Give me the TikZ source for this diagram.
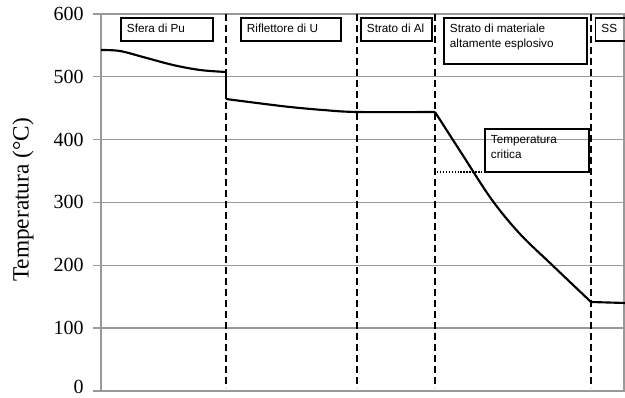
\documentclass[tikz,border=0pt]{standalone}
\usepackage{fontspec}
\setmainfont{Liberation Serif}
\newfontfamily\boxfont{Liberation Sans}
\newcommand{\bxt}[3]{\begin{minipage}[t][#2][t]{#1}\raggedright\leftskip=4.5pt\rule{0pt}{11.3pt}#3\end{minipage}}
\begin{document}
\begin{tikzpicture}[x=0.75pt,y=-0.75pt,
  gridline/.style={gray!80, line width=0.8pt},
  sepline/.style={black, line width=1.5pt, dash pattern=on 5.25pt off 3pt},
  curveline/.style={black, line width=1.6pt, line join=round},
  labbox/.style={draw=black, line width=1.4pt, inner sep=0pt, anchor=north west, font=\boxfont\fontsize{8.8}{10.8}\selectfont},
  ticklab/.style={anchor=east, font=\fontsize{15}{17}\selectfont, inner sep=0pt},
]
\useasboundingbox (0,0) rectangle (625,398);
\clip (0,0) rectangle (625,398);
% grid
\foreach \yy in {14,76.8,139.6,202.4,265.2,328,391} {
  \draw[gridline] (93,\yy) -- (625,\yy);
}
\draw[gridline] (101,14) -- (101,391);
\draw[gridline] (624,14) -- (624,391);
% tick labels
\node[ticklab] (t600) at (84,14) {600};
\node[ticklab] (t500) at (84,76.8) {500};
\node[ticklab] (t400) at (84,139.6) {400};
\node[ticklab] (t300) at (84,202.4) {300};
\node[ticklab] (t200) at (84,265.2) {200};
\node[ticklab] (t100) at (84,328) {100};
\node[ticklab, anchor=south east] (t0) at (84,394) {0};
% axis label
\node[rotate=90, font=\fontsize{17.5}{19}\selectfont, inner sep=0pt] (ylab) at (23,200) {Temperatura (°C)};
% dashed separators
\foreach \xx in {226,357,435,591} {
  \draw[sepline] (\xx,14) -- (\xx,388);
}
% boxes
\node[labbox] (sfera) at (120,17) {\bxt{69pt}{17.25pt}{Sfera di Pu}};
\node[labbox] (rifl) at (240,17) {\bxt{75pt}{17.25pt}{Riflettore di U}};
\node[labbox] (al) at (360,17) {\bxt{53.25pt}{17.25pt}{Strato di Al}};
\node[labbox] (hx) at (443,17) {\bxt{107.25pt}{34.5pt}{Strato di materiale\\altamente esplosivo}};
\node[labbox] (ss) at (594.5,17) {\bxt{45pt}{17.25pt}{SS}};
\node[labbox] (crit) at (484,128) {\bxt{78pt}{32.25pt}{Temperatura\\critica}};
% critical temperature dotted line
\coordinate (tcL) at (437,172);
\coordinate (tcR) at (592,172);
\draw[black, line width=1.1pt, dash pattern=on 1.1pt off 1.1pt] (tcL) -- (tcR);
% temperature curve
\draw[curveline] plot[smooth, tension=0.55] coordinates {(101,50) (120,51) (143,57) (173,65) (200,70) (226,72)};
\draw[curveline] (226,72) -- (226,99);
\draw[curveline] plot[smooth, tension=0.55] coordinates {(226,99) (257,103) (290,107) (323,110) (357,112) (435,112)};
\draw[curveline] plot[smooth, tension=0.55] coordinates {(435,112) (462,154) (492,200) (520,234) (550,263) (591,302)};
\draw[curveline] (591,302) -- (625,303);
\end{tikzpicture}
\end{document}
